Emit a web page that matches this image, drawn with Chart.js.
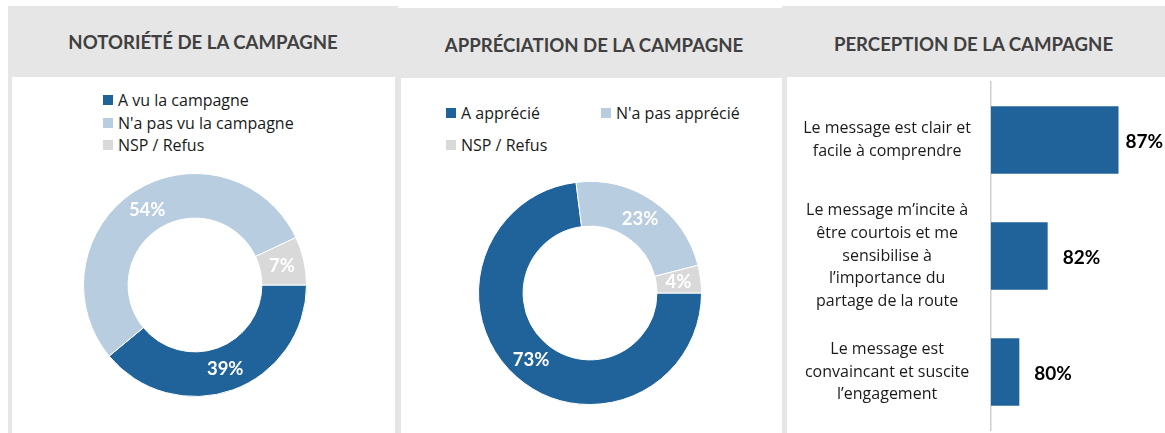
<!DOCTYPE html>
<html lang="fr">
<head>
<meta charset="utf-8">
<script src="https://cdn.jsdelivr.net/npm/chart.js@4.4.1/dist/chart.umd.min.js"></script>
<style>
  body { margin: 0; width: 1165px; height: 433px; background: #fff; position: relative; overflow: hidden; font-family: "Open Sans", sans-serif; }
  .frame { position: absolute; background: #e6e6e6; }
  .inner { position: absolute; background: #fff; }
  .title { position: absolute; text-align: center; font-family: Lato, sans-serif; font-weight: bold; color: #404040; font-size: 18.6px; white-space: nowrap; }
  .legend { position: absolute; font-size: 16px; color: #1a1a1a; display: flex; flex-wrap: wrap; }
  .legend .item { display: flex; align-items: center; white-space: nowrap; }
  .legend .box { width: 10px; height: 10px; margin-right: 5px; flex: none; }
  canvas { position: absolute; }
</style>
</head>
<body>
  <div class="frame" style="left:8px;top:6px;width:390px;height:427px"></div>
  <div class="inner" style="left:12px;top:77px;width:383px;height:356px"></div>
  <div class="frame" style="left:398px;top:8px;width:392px;height:425px"></div>
  <div class="inner" style="left:401px;top:78px;width:381px;height:355px"></div>
  <div class="frame" style="left:782px;top:6px;width:383px;height:427px"></div>
  <div class="inner" style="left:787px;top:77px;width:378px;height:356px"></div>

  <div class="title" style="left:8px;width:390px;top:31px">NOTORIÉTÉ DE LA CAMPAGNE</div>
  <div class="title" style="left:398px;width:392px;top:34px">APPRÉCIATION DE LA CAMPAGNE</div>
  <div class="title" style="left:782px;width:383px;top:33px">PERCEPTION DE LA CAMPAGNE</div>

  <div id="legend1" class="legend" style="left:103px;top:89px;width:250px;flex-direction:column;line-height:22.5px"></div>
  <div id="legend2" class="legend" style="left:446px;top:97px;width:320px;line-height:32px"></div>

  <canvas id="donut1" style="left:81px;top:171px" width="228" height="228"></canvas>
  <canvas id="donut2" style="left:476px;top:179px" width="228" height="228"></canvas>
  <canvas id="bars" style="left:787px;top:77px" width="378" height="356"></canvas>

<script>
const notorieteLabels = ["A vu la campagne", "N'a pas vu la campagne", "NSP / Refus"];
const notorieteValues = [39, 54, 7];

const appreciationLabels = ["A apprécié", "N'a pas apprécié", "NSP / Refus"];
const appreciationValues = [73, 23, 4];

const perceptionLabels = [
  ["Le message est clair et", "facile à comprendre"],
  ["Le message m’incite à", "être courtois et me", "sensibilise à", "l’importance du", "partage de la route"],
  ["Le message est", "convaincant et suscite", "l’engagement"]
];
const perceptionValues = [87, 82, 80];

const sliceColors = ["#20639a", "#b9cde0", "#d9d9d9"];
const barColor = "#20639a";

Chart.defaults.font.family = "'Open Sans', sans-serif";

function buildLegend(id, labels, itemWidth) {
  const el = document.getElementById(id);
  labels.forEach((lab, i) => {
    const item = document.createElement("div");
    item.className = "item";
    if (itemWidth) item.style.width = itemWidth + "px";
    item.innerHTML = `<span class="box" style="background:${sliceColors[i]}"></span><span>${lab}</span>`;
    el.appendChild(item);
  });
}
buildLegend("legend1", notorieteLabels);
buildLegend("legend2", appreciationLabels, 155);

// pourcentages au milieu de chaque part
const sliceLabels = {
  id: "sliceLabels",
  afterDatasetsDraw(chart) {
    const ctx = chart.ctx;
    const values = chart.data.datasets[0].data;
    ctx.save();
    ctx.font = "bold 18.5px Lato";
    ctx.fillStyle = "#fff";
    ctx.textAlign = "center";
    ctx.textBaseline = "middle";
    chart.getDatasetMeta(0).data.forEach((arc, i) => {
      const p = arc.tooltipPosition();
      ctx.fillText(values[i] + "%", p.x, p.y);
    });
    ctx.restore();
  }
};

function makeDonut(id, labels, values) {
  return new Chart(document.getElementById(id), {
    type: "doughnut",
    data: {
      labels: labels,
      datasets: [{
        data: values,
        backgroundColor: sliceColors,
        borderColor: "#fff",
        borderWidth: 1,
        hoverOffset: 0,
        offset: 0
      }]
    },
    options: {
      responsive: false,
      animation: false,
      rotation: 90,
      cutout: "60%",
      layout: { padding: 2 },
      plugins: { legend: { display: false }, tooltip: { enabled: false } }
    },
    plugins: [sliceLabels]
  });
}

makeDonut("donut1", notorieteLabels, notorieteValues);
makeDonut("donut2", appreciationLabels, appreciationValues);

// valeurs à droite des barres
const barValueLabels = {
  id: "barValueLabels",
  afterDatasetsDraw(chart) {
    const ctx = chart.ctx;
    ctx.save();
    ctx.font = "bold 19px Lato";
    ctx.fillStyle = "#000";
    ctx.textBaseline = "middle";
    chart.getDatasetMeta(0).data.forEach((bar, i) => {
      const txt = perceptionValues[i] + "%";
      const w = ctx.measureText(txt).width;
      const x = Math.min(bar.x + 15, chart.width - 2 - w);
      ctx.fillText(txt, x, bar.y + 2);
    });
    ctx.restore();
  }
};

new Chart(document.getElementById("bars"), {
  type: "bar",
  data: {
    labels: perceptionLabels,
    datasets: [{
      data: perceptionValues,
      backgroundColor: barColor,
      barPercentage: 0.58,
      categoryPercentage: 1
    }]
  },
  options: {
    responsive: false,
    animation: false,
    indexAxis: "y",
    layout: { padding: { top: 5, bottom: 3, right: 4, left: 0 } },
    scales: {
      x: { display: false, min: 78, max: 90 },
      y: {
        afterFit: s => { s.width = 204; s.paddingTop = 0; s.paddingBottom = 0; },
        grid: { display: false, drawTicks: false },
        border: { display: true, color: "#cfcfcf", width: 1.5 },
        ticks: {
          autoSkip: false,
          crossAlign: "center",
          padding: 20,
          color: "#1a1a1a",
          font: { size: 16, lineHeight: 1.42 }
        }
      }
    },
    plugins: { legend: { display: false }, tooltip: { enabled: false } }
  },
  plugins: [barValueLabels]
});
</script>
</body>
</html>
